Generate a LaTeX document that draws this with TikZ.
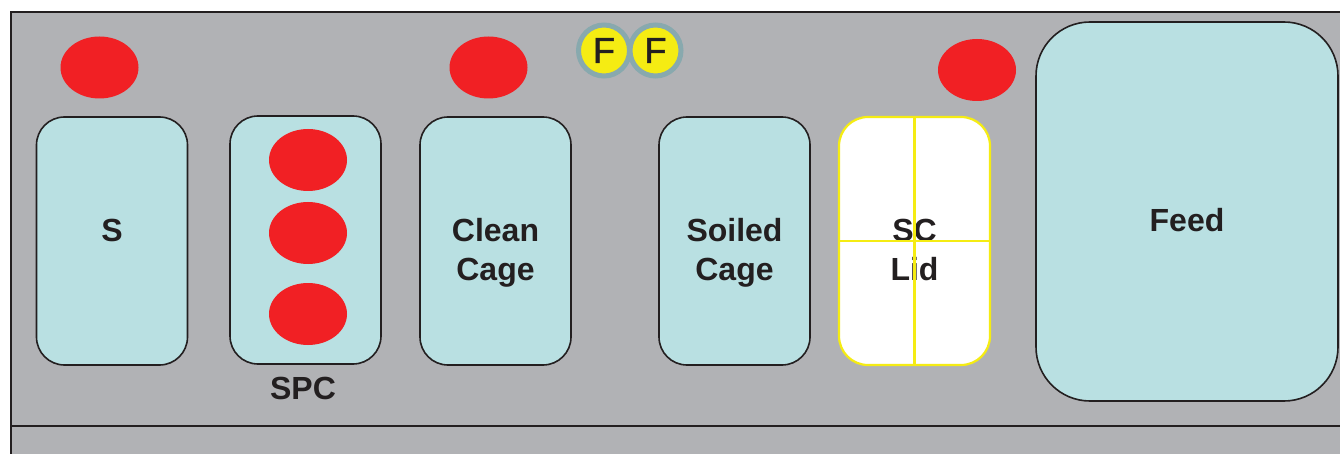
\documentclass[tikz,border=0pt]{standalone}
\usepackage{fontspec}
\setmainfont{Liberation Sans}
\usetikzlibrary{shapes.geometric}
\definecolor{panel}{HTML}{B1B2B5}
\definecolor{boxfill}{HTML}{B9E0E2}
\definecolor{redmark}{HTML}{F12024}
\definecolor{yellowmark}{HTML}{F5EC13}
\definecolor{ringcol}{HTML}{88A9AE}
\definecolor{inkcol}{HTML}{231F20}
\tikzset{
  x=1pt,y=-1pt,
  bin/.style={draw=inkcol,line width=1.6pt,fill=boxfill,rounded corners=28pt,minimum width=151pt,minimum height=248pt,inner sep=0pt},
  lidbox/.style={bin,draw=yellowmark,fill=white,rounded corners=29pt,line width=2.2pt},
  feedbox/.style={bin,minimum width=302pt,minimum height=379pt,rounded corners=54pt},
  redspot/.style={ellipse,fill=redmark,minimum width=78pt,minimum height=62pt,inner sep=0pt},
  fan/.style={circle,draw=ringcol,line width=5pt,fill=yellowmark,minimum size=51pt,inner sep=0pt,text=inkcol,font=\fontsize{36}{36}\selectfont\addfontfeature{FakeBold=1.5}},
  caption/.style={text=inkcol,inner sep=0pt,align=center,font=\fontsize{32}{39}\selectfont\bfseries},
  edge/.style={draw=inkcol,line width=2pt},
  lidline/.style={draw=yellowmark,line width=2.2pt}
}
\begin{document}
\begin{tikzpicture}
\useasboundingbox (0,0) rectangle (1340,454);
\fill[white] (0,0) rectangle (1340,454);
\fill[panel] (11,12) rectangle (1340,454);
\coordinate (tl) at (11,12);
\coordinate (tr) at (1340,12);
\coordinate (bl) at (11,454);
\coordinate (ml) at (11,426);
\coordinate (mr) at (1340,426);
\draw[edge] (bl) -- (tl) -- (tr);
\draw[edge,line width=1.5pt] (ml) -- (mr);

\node[redspot] (r1) at (99.5,67.5) {};
\node[redspot] (r2) at (488.5,67.5) {};
\node[redspot] (r3) at (977,70) {};

\node[fan] (f1) at (604,50.5) {F};
\node[fan] (f2) at (655.5,50.5) {F};

\node[bin] (s) at (112,241) {};
\node[bin] (spc) at (305.5,240) {};
\node[bin] (clean) at (495.5,241) {};
\node[bin] (soiled) at (734.5,241) {};
\node[lidbox] (lid) at (914.5,241) {};
\node[feedbox] (feed) at (1187,211.5) {};

\node[caption] (slabel) at (112,230) {S};
\node[caption] (cleanlabel) at (495.5,253) {Clean\\Cage};
\node[caption] (soiledlabel) at (734.5,253) {Soiled\\Cage};
\node[caption] (lidlabel) at (914.5,250) {SC\\Lid};
\node[caption] (feedlabel) at (1187,220) {Feed};
\draw[lidline] (lid.north) -- (lid.south);
\draw[lidline] (lid.west) -- (lid.east);

\node[redspot] (r4) at (308,160) {};
\node[redspot] (r5) at (308,233) {};
\node[redspot] (r6) at (308,314) {};

\node[caption] (spclabel) at (303,388) {SPC};
\end{tikzpicture}
\end{document}
